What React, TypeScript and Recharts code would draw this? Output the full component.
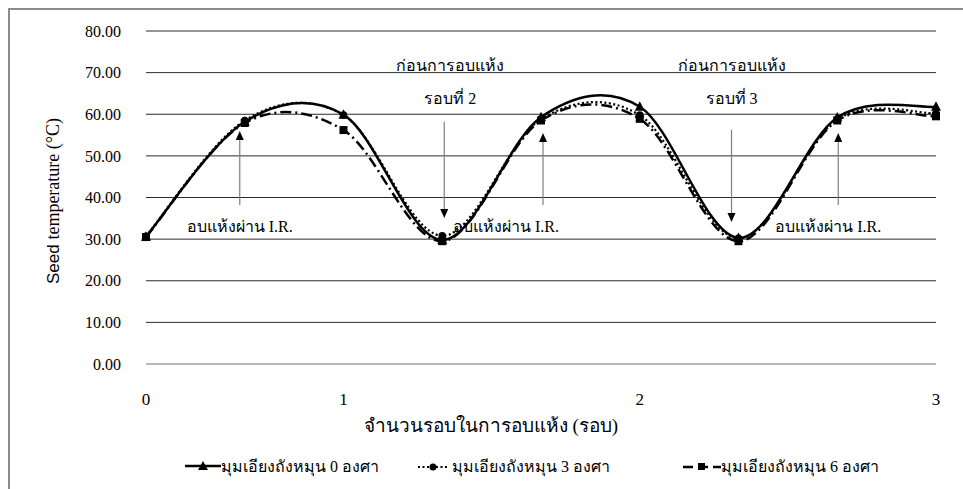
import React from "react";
import {
  LineChart,
  Line,
  XAxis,
  YAxis,
  CartesianGrid,
  Legend,
  ReferenceLine,
  ReferenceDot,
} from "recharts";

// drying steps (9 readings), only some carry a round number on the axis
const steps = [0, 1, 2, 3, 4, 5, 6, 7, 8];
const tickLabels = ["0", "", "1", "", "", "2", "", "", "3"];
const yTicks = [0, 10, 20, 30, 40, 50, 60, 70, 80];

const seriesNames = [
  "มุมเอียงถังหมุน 0 องศา",
  "มุมเอียงถังหมุน 3 องศา",
  "มุมเอียงถังหมุน 6 องศา",
];
const angle0 = [30.6, 58.2, 59.9, 29.8, 59.3, 61.8, 30.3, 59.2, 61.8];
const angle3 = [30.7, 58.5, 59.8, 30.8, 58.8, 59.8, 30.2, 58.8, 60.2];
const angle6 = [30.5, 57.9, 56.2, 29.5, 58.5, 58.9, 29.5, 58.5, 59.5];

// annotation arrows: step, start value, tip value
const arrowSteps = [1, 3, 4, 6, 7];
const arrowFrom = [38.2, 58.2, 38.2, 56.3, 38.2];
const arrowTo = [56.0, 35.1, 55.5, 34.1, 55.5];
const arrowNudge = [-5, 2, 2, -7, 1];

const irText = "อบแห้งผ่าน I.R.";
const noteSteps = [1, 3, 3, 4, 6, 6, 7];
const noteValues = [31.8, 70.4, 62.5, 31.8, 70.4, 62.5, 31.8];
const noteTexts = [irText, "ก่อนการอบแห้ง", "รอบที่ 2", irText, "ก่อนการอบแห้ง", "รอบที่ 3", irText];
const noteNudge = [-5, 8, 8, -35, -7, -7, -9];

const data = steps.map((s, i) => ({
  step: s,
  a0: angle0[i],
  a3: angle3[i],
  a6: angle6[i],
}));

const FONT = "Liberation Serif, Times New Roman, serif";

// excel-like smoothed line (catmull-rom style bezier)
function excelSmooth(context: any) {
  let pts: number[][] = [];
  return {
    areaStart() {},
    areaEnd() {},
    lineStart() {
      pts = [];
    },
    point(x: number, y: number) {
      pts.push([+x, +y]);
    },
    lineEnd() {
      if (!pts.length) return;
      context.moveTo(pts[0][0], pts[0][1]);
      for (let i = 0; i < pts.length - 1; i++) {
        const p0 = pts[Math.max(i - 1, 0)];
        const p1 = pts[i];
        const p2 = pts[i + 1];
        const p3 = pts[Math.min(i + 2, pts.length - 1)];
        context.bezierCurveTo(
          p1[0] + (p2[0] - p0[0]) / 6,
          p1[1] + (p2[1] - p0[1]) / 6,
          p2[0] - (p3[0] - p1[0]) / 6,
          p2[1] - (p3[1] - p1[1]) / 6,
          p2[0],
          p2[1]
        );
      }
    },
  };
}

function Marker({ kind, cx, cy }: any) {
  if (kind === "tri")
    return <polygon points={`${cx},${cy - 5.5} ${cx + 5},${cy + 4} ${cx - 5},${cy + 4}`} fill="#000" />;
  if (kind === "sq") return <rect x={cx - 4} y={cy - 4} width={8} height={8} fill="#000" />;
  return <circle cx={cx} cy={cy} r={3.8} fill="#000" />;
}

const makeDot = (kind: string) => (p: any) =>
  <Marker key={`${kind}-${p.index}`} kind={kind} cx={p.cx} cy={p.cy} />;

function Arrow(props: any) {
  const { x1, y1, x2, y2, nudge } = props;
  const x = (x1 + x2) / 2 + nudge;
  const dir = y2 > y1 ? 1 : -1;
  const base = y2 - dir * 9;
  return (
    <g>
      <line x1={x} y1={y1} x2={x} y2={base} stroke="#7f7f7f" strokeWidth={1.2} />
      <polygon points={`${x},${y2} ${x - 4},${base} ${x + 4},${base}`} fill="#000" />
    </g>
  );
}

function NoteText(props: any) {
  const { cx, cy, text, nudge } = props;
  return (
    <text x={cx + nudge} y={cy} textAnchor="middle" style={{ fontFamily: FONT }} fontSize={16} fill="#000">
      {text}
    </text>
  );
}

function LegendIcon({ i }: { i: number }) {
  if (i === 0)
    return (
      <svg width={36} height={12}>
        <line x1={0} y1={6} x2={36} y2={6} stroke="#000" strokeWidth={2.5} />
        <polygon points="18,1 23,10 13,10" fill="#000" />
      </svg>
    );
  if (i === 1)
    return (
      <svg width={30} height={12}>
        <line x1={0} y1={7} x2={30} y2={7} stroke="#000" strokeWidth={2} strokeDasharray="2 2.5" />
        <circle cx={15} cy={7} r={3.5} fill="#000" />
      </svg>
    );
  return (
    <svg width={38} height={12}>
      <line x1={0} y1={7} x2={38} y2={7} stroke="#000" strokeWidth={2.5} strokeDasharray="10 5" />
      <rect x={15} y={3} width={7} height={7} fill="#000" />
    </svg>
  );
}

// item start positions inside the legend box
const legendLeft = [0, 233, 498];

function LegendContent() {
  return (
    <div style={{ position: "relative", height: 20, fontFamily: FONT, fontSize: 16, color: "#000", whiteSpace: "nowrap" }}>
      {seriesNames.map((n, i) => (
        <div key={n} style={{ position: "absolute", left: legendLeft[i], top: 0, display: "flex", alignItems: "center", height: 20 }}>
          <LegendIcon i={i} />
          <span style={{ marginLeft: i === 1 ? 4 : 0 }}>{n}</span>
        </div>
      ))}
    </div>
  );
}

function YLabel() {
  return (
    <text
      x={43}
      y={191}
      transform="rotate(-90, 43, 191)"
      textAnchor="middle"
      dominantBaseline="central"
      style={{ fontFamily: FONT }}
      fontSize={18}
      fill="#000"
    >
      <tspan style={{ fontFamily: "Liberation Sans, Arial, sans-serif" }} fontSize={17}>Seed </tspan>
      temperature (°C)
    </text>
  );
}

function XLabel(props: any) {
  const { viewBox } = props;
  const cx = viewBox.x + viewBox.width / 2 - 50;
  return (
    <text x={cx} y={viewBox.y + viewBox.height - 2} textAnchor="middle" style={{ fontFamily: FONT }} fontSize={19} fill="#000">
      จำนวนรอบในการอบแห้ง (รอบ)
    </text>
  );
}

export default function App() {
  return (
    <div
      style={{
        position: "fixed",
        left: 8,
        top: 8,
        width: 955,
        height: 481,
        boxSizing: "border-box",
        borderTop: "2px solid #8c8c8c",
        borderLeft: "2px solid #8c8c8c",
        background: "#fff",
      }}
    >
      <LineChart width={953} height={479} data={data} margin={{ top: 21, right: 27, left: 0, bottom: 55 }}>
        <CartesianGrid horizontal vertical={false} stroke="#2b2b2b" strokeWidth={1} />
        <XAxis
          dataKey="step"
          type="category"
          height={70}
          interval={0}
          tickLine={false}
          tickSize={0}
          tickMargin={29}
          axisLine={{ stroke: "#c4c4c4", strokeWidth: 1.5 }}
          tickFormatter={(v: any, i: number) => tickLabels[i]}
          tick={{ style: { fontFamily: FONT }, fontSize: 17, fill: "#000" }}
          label={<XLabel />}
        />
        <YAxis
          width={136}
          domain={[0, 80]}
          ticks={yTicks}
          interval={0}
          axisLine={false}
          tickLine={false}
          tickSize={0}
          tickMargin={25}
          tickFormatter={(v: number) => v.toFixed(2)}
          tick={{ style: { fontFamily: FONT }, fontSize: 16, fill: "#000" }}
          label={<YLabel />}
        />
        <Legend
          layout="vertical"
          align="center"
          verticalAlign="middle"
          content={<LegendContent />}
          wrapperStyle={{ position: "absolute", left: 175, top: 446, width: 760, height: 20 }}
        />
        {arrowSteps.map((s, i) => (
          <ReferenceLine
            key={`arrow-${i}`}
            segment={[
              { x: s, y: arrowFrom[i] },
              { x: s, y: arrowTo[i] },
            ]}
            ifOverflow="visible"
            shape={(p: any) => <Arrow {...p} nudge={arrowNudge[i]} />}
          />
        ))}
        {noteSteps.map((s, i) => (
          <ReferenceDot
            key={`note-${i}`}
            x={s}
            y={noteValues[i]}
            r={0}
            ifOverflow="visible"
            shape={(p: any) => <NoteText {...p} text={noteTexts[i]} nudge={noteNudge[i]} />}
          />
        ))}
        <Line
          dataKey="a6"
          name={seriesNames[2]}
          type={excelSmooth as any}
          stroke="#000"
          strokeWidth={2.5}
          strokeDasharray="11 4 2 4"
          dot={makeDot("sq")}
          activeDot={false}
          isAnimationActive={false}
        />
        <Line
          dataKey="a3"
          name={seriesNames[1]}
          type={excelSmooth as any}
          stroke="#000"
          strokeWidth={2.2}
          strokeDasharray="2 2.5"
          dot={makeDot("circ")}
          activeDot={false}
          isAnimationActive={false}
        />
        <Line
          dataKey="a0"
          name={seriesNames[0]}
          type={excelSmooth as any}
          stroke="#000"
          strokeWidth={2.5}
          dot={makeDot("tri")}
          activeDot={false}
          isAnimationActive={false}
        />
      </LineChart>
    </div>
  );
}
